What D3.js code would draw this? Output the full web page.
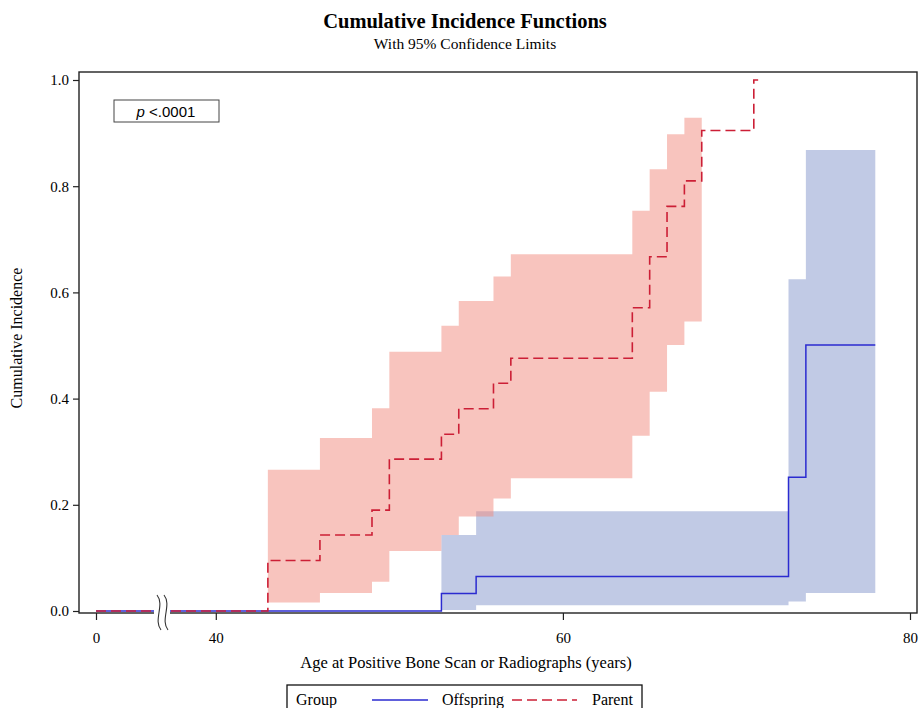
<!DOCTYPE html>
<html>
<head>
<meta charset="utf-8">
<script src="https://cdn.jsdelivr.net/npm/d3@7"></script>
<style>
  body { margin: 0; background: #fff; }
  svg { display: block; }
</style>
</head>
<body>
<div id="chart"></div>
<script>
// step times (years) and cumulative incidence
var parentTime = [0, 43, 46, 49, 50, 53, 54, 56, 57, 64, 65, 66, 67, 68, 71];
var parentCif = [0, 0.095, 0.143, 0.190, 0.286, 0.333, 0.381, 0.429, 0.476, 0.571, 0.667, 0.762, 0.810, 0.905, 1.0];
var parentEnd = 71.25;

var offTime = [0, 53, 55, 73, 74];
var offCif = [0, 0.033, 0.065, 0.252, 0.501];
var offEnd = 78;

// 95% confidence bands (last time = end of band)
var parentBandTime = [43, 46, 49, 50, 53, 54, 56, 57, 64, 65, 66, 67, 68];
var parentLower = [0.016, 0.034, 0.055, 0.113, 0.143, 0.178, 0.212, 0.250, 0.330, 0.413, 0.501, 0.545];
var parentUpper = [0.266, 0.326, 0.382, 0.488, 0.537, 0.584, 0.630, 0.672, 0.754, 0.832, 0.898, 0.929];

var offBandTime = [53, 55, 73, 74, 78];
var offLower = [0.002, 0.011, 0.018, 0.034];
var offUpper = [0.143, 0.188, 0.625, 0.868];

var xTicks = [0, 40, 60, 80];
var yTicks = [0, 0.2, 0.4, 0.6, 0.8, 1.0];

var W = 919, H = 708;
var plotL = 79, plotR = 917, plotT = 72, plotB = 613;
var serif = '"Liberation Serif", "Times New Roman", serif';
var sans = '"Liberation Sans", Arial, sans-serif';

var svg = d3.select('#chart').append('svg')
    .attr('width', W)
    .attr('height', H);

// broken x axis: 0..3.8 then 36.9..80
var x = d3.scaleLinear().domain([0, 3.8, 36.9, 80]).range([96, 162, 162, 910]);
var y = d3.scaleLinear().domain([0, 1]).range([611, 80]);

function bandPoints(t, lo, hi) {
    var pts = [];
    for (var i = 0; i < lo.length; i++) pts.push({ t: t[i], lo: lo[i], hi: hi[i] });
    pts.push({ t: t[t.length - 1], lo: lo[lo.length - 1], hi: hi[hi.length - 1] });
    return pts;
}
function stepPoints(t, v, end) {
    var pts = t.map(function (d, i) { return { t: d, v: v[i] }; });
    pts.push({ t: end, v: v[v.length - 1] });
    return pts;
}

var area = d3.area().curve(d3.curveStepAfter)
    .x(function (d) { return x(d.t); })
    .y0(function (d) { return y(d.lo); })
    .y1(function (d) { return y(d.hi); });
var line = d3.line().curve(d3.curveStepAfter)
    .x(function (d) { return x(d.t); })
    .y(function (d) { return y(d.v); });

// bands: offspring first, parent on top
svg.append('path').datum(bandPoints(offBandTime, offLower, offUpper))
    .attr('d', area).attr('fill', '#8395cb').attr('fill-opacity', 0.5);
svg.append('path').datum(bandPoints(parentBandTime, parentLower, parentUpper))
    .attr('d', area).attr('fill', '#f1897d').attr('fill-opacity', 0.5);

svg.append('path').datum(stepPoints(offTime, offCif, offEnd))
    .attr('d', line).attr('fill', 'none')
    .attr('stroke', '#2b2bd0').attr('stroke-width', 1.5);
svg.append('path').datum(stepPoints(parentTime, parentCif, parentEnd))
    .attr('d', line).attr('fill', 'none')
    .attr('stroke', '#cc1f36').attr('stroke-width', 1.6)
    .attr('stroke-dasharray', '10,5');

// axes
var xAxis = svg.append('g').attr('transform', 'translate(0,' + plotB + ')')
    .call(d3.axisBottom(x).tickValues(xTicks).tickSize(7).tickPadding(12));
var yAxis = svg.append('g').attr('transform', 'translate(' + plotL + ',0)')
    .call(d3.axisLeft(y).tickValues(yTicks).tickFormat(d3.format('.1f')).tickSize(6).tickPadding(4));
[xAxis, yAxis].forEach(function (g) {
    g.select('.domain').remove();
    g.selectAll('line').attr('stroke', '#222').attr('stroke-width', 1.2);
    g.selectAll('text').attr('fill', '#000')
        .style('font-family', serif).style('font-size', '15px');
});

svg.append('rect')
    .attr('x', plotL).attr('y', plotT)
    .attr('width', plotR - plotL).attr('height', plotB - plotT)
    .attr('fill', 'none').attr('stroke', '#222').attr('stroke-width', 1.4);

// axis break
var bx = x(3.8);
svg.append('rect').attr('x', bx - 8).attr('y', 604).attr('width', 16).attr('height', 14).attr('fill', '#fff');
[-3, 4].forEach(function (o) {
    var cx = bx + o;
    svg.append('path')
        .attr('d', 'M' + (cx - 2) + ',595 C' + (cx + 6) + ',605 ' + (cx - 6) + ',620 ' + (cx + 2) + ',630')
        .attr('fill', 'none').attr('stroke', '#333').attr('stroke-width', 1.1);
});

// titles
svg.append('text').attr('x', 465).attr('y', 28).attr('text-anchor', 'middle')
    .style('font-family', serif).style('font-size', '20.5px').style('font-weight', 'bold')
    .text('Cumulative Incidence Functions');
svg.append('text').attr('x', 465).attr('y', 49).attr('text-anchor', 'middle')
    .style('font-family', serif).style('font-size', '15.5px')
    .text('With 95% Confidence Limits');

svg.append('text').attr('x', 466).attr('y', 668).attr('text-anchor', 'middle')
    .style('font-family', serif).style('font-size', '16.5px')
    .text('Age at Positive Bone Scan or Radiographs (years)');
svg.append('text').attr('transform', 'translate(22,338) rotate(-90)').attr('text-anchor', 'middle')
    .style('font-family', serif).style('font-size', '16px')
    .text('Cumulative Incidence');

// p-value box
svg.append('rect').attr('x', 114).attr('y', 100).attr('width', 105).attr('height', 22)
    .attr('fill', '#fff').attr('stroke', '#444').attr('stroke-width', 1);
var pt = svg.append('text').attr('x', 166).attr('y', 117).attr('text-anchor', 'middle')
    .style('font-family', sans).style('font-size', '15px');
pt.append('tspan').style('font-style', 'italic').text('p');
pt.append('tspan').text(' <.0001');

// legend
var lg = svg.append('g');
lg.append('rect').attr('x', 287).attr('y', 685).attr('width', 355).attr('height', 40)
    .attr('fill', '#fff').attr('stroke', '#111').attr('stroke-width', 1.3);
lg.append('text').attr('x', 296).attr('y', 705)
    .style('font-family', serif).style('font-size', '16px').text('Group');
lg.append('line').attr('x1', 372).attr('x2', 428).attr('y1', 700).attr('y2', 700)
    .attr('stroke', '#2b2bd0').attr('stroke-width', 1.5);
lg.append('text').attr('x', 442).attr('y', 705)
    .style('font-family', serif).style('font-size', '16px').text('Offspring');
lg.append('line').attr('x1', 512).attr('x2', 577).attr('y1', 700).attr('y2', 700)
    .attr('stroke', '#cc1f36').attr('stroke-width', 1.6).attr('stroke-dasharray', '10,5');
lg.append('text').attr('x', 592).attr('y', 705)
    .style('font-family', serif).style('font-size', '16px').text('Parent');
</script>
</body>
</html>
